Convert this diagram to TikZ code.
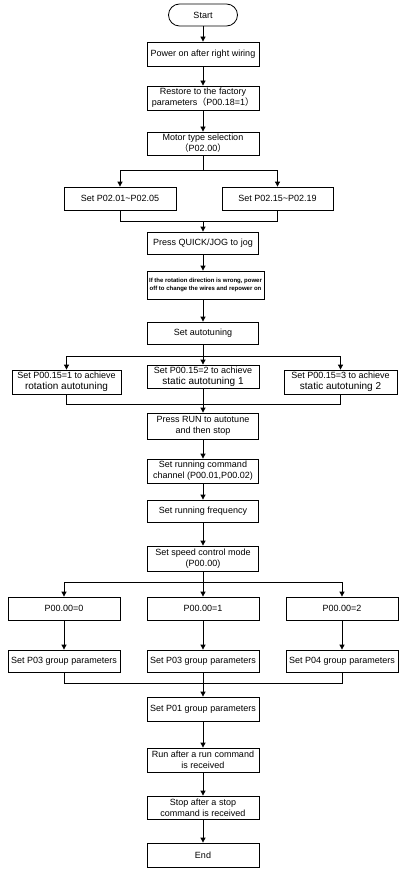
\documentclass[tikz,border=0pt]{standalone}
\usepackage{fontspec}
\setmainfont{Liberation Sans}
\newfontfamily\cjk{Noto Sans CJK SC}
\usetikzlibrary{arrows.meta}
\tikzset{flowbox/.style={draw,line width=0.8pt,minimum width=112pt,minimum height=24pt,inner sep=1pt,
    align=center,font=\fontsize{9}{11}\selectfont},
  startbox/.style={flowbox,rounded corners=11pt,minimum width=69pt,minimum height=22pt},
  flowline/.style={line width=0.8pt},
  flowarrow/.style={flowline,-{Triangle[length=5pt,width=5pt]}}}
\newcommand{\wideline}[1]{{\fontsize{10}{11}\selectfont #1}}

\begin{document}
\begin{tikzpicture}[x=1pt,y=-1pt]
    \useasboundingbox(0,0)rectangle(407,872);

    \node[startbox](start)at(203,15){Start};
    \node[flowbox](power)at(203,54){Power on after right wiring};
    \node[flowbox](restore)at(203,98){Restore to the factory\\parameters{\cjk（}P00.18=1{\cjk）}};
    \node[flowbox,minimum height=23pt](motor)at(203,143.5){Motor type selection\\{\cjk（}P02.00{\cjk）}};
    \node[flowbox,minimum height=23pt](setA)at(120,198.5){Set P02.01\textasciitilde P02.05};
    \node[flowbox,minimum width=111pt,minimum height=23pt](setB)at(277.5,198.5){Set P02.15\textasciitilde P02.19};
    \node[flowbox,minimum width=111pt,minimum height=22pt](jog)at(203,243){Press QUICK/JOG to jog};
    \node[flowbox,minimum width=117pt,minimum height=28pt,font=\fontsize{6}{8.5}\selectfont\bfseries](warn)at(205.5,285)
        {If the rotation direction is wrong, power\\off to change the wires and repower on};
    \node[flowbox,minimum width=111pt,minimum height=22pt](autotune)at(203,333){Set autotuning};

    \node[flowbox,minimum width=109pt](tuneA)at(66.5,382){Set P00.15=1 to achieve\\\wideline{rotation autotuning}};
    \node[flowbox,minimum height=23pt](tuneB)at(203,376.5){Set P00.15=2 to achieve\\\wideline{static autotuning 1}};
    \node[flowbox,minimum width=113pt](tuneC)at(340.5,382){Set P00.15=3 to achieve\\\wideline{static autotuning 2}};

    \node[flowbox,minimum width=111pt,minimum height=26pt](run)at(203,426){Press RUN to autotune\\and then stop};
    \node[flowbox,minimum width=111pt](channel)at(203,471){Set running command\\channel (P00.01,P00.02)};
    \node[flowbox,minimum width=111pt,minimum height=22pt](freq)at(203,511){Set running frequency};
    \node[flowbox,minimum width=111pt,minimum height=25pt](speed)at(203,558.5){Set speed control mode\\(P00.00)};

    \node[flowbox,minimum height=23pt](modeA)at(64,608.5){P00.00=0};
    \node[flowbox,minimum height=23pt](modeB)at(203,608.5){P00.00=1};
    \node[flowbox,minimum height=23pt](modeC)at(342,608.5){P00.00=2};
    \node[flowbox,minimum height=22pt](groupA)at(64,661){Set P03 group parameters};
    \node[flowbox,minimum height=22pt](groupB)at(203,661){Set P03 group parameters};
    \node[flowbox,minimum height=22pt](groupC)at(342,661){Set P04 group parameters};

    \node[flowbox](groupone)at(203,709){Set P01 group parameters};
    \node[flowbox](runcmd)at(203,760){Run after a run command\\is received};
    \node[flowbox,minimum height=23pt](stopcmd)at(203,807.5){Stop after a stop\\command is received};
    \node[flowbox](finish)at(203,855){End};

    \coordinate(forkA)at(203,170);
    \coordinate(joinA)at(203,221);
    \coordinate(forkB)at(203,356);
    \coordinate(joinB)at(203,404);
    \coordinate(forkC)at(203,582);
    \coordinate(joinC)at(203,683);

    \draw[flowarrow](start)--(power);
    \draw[flowarrow](power)--(restore);
    \draw[flowarrow](restore)--(motor);
    \draw[flowline](motor)--(forkA);
    \draw[flowarrow](forkA)-|(setA);
    \draw[flowarrow](forkA)-|(setB);
    \draw[flowline](setA)|-(joinA);
    \draw[flowline](setB)|-(joinA);
    \draw[flowarrow](joinA)--(jog);
    \draw[flowarrow](jog)--(jog.south|-warn.north);
    \draw[flowarrow](autotune.north|-warn.south)--(autotune);

    \draw[flowline](autotune)--(forkB);
    \draw[flowarrow](forkB)-|(tuneA);
    \draw[flowarrow](forkB)--(tuneB);
    \draw[flowarrow](forkB)-|(tuneC);
    \draw[flowline](tuneA)|-(joinB);
    \draw[flowline](tuneC)|-(joinB);
    \draw[flowarrow](tuneB)--(run);

    \draw[flowarrow](run)--(channel);
    \draw[flowarrow](channel)--(freq);
    \draw[flowarrow](freq)--(speed);
    \draw[flowline](speed)--(forkC);
    \draw[flowarrow](forkC)-|(modeA);
    \draw[flowarrow](forkC)--(modeB);
    \draw[flowarrow](forkC)-|(modeC);
    \draw[flowarrow](modeA)--(groupA);
    \draw[flowarrow](modeB)--(groupB);
    \draw[flowarrow](modeC)--(groupC);
    \draw[flowline](groupA)|-(joinC);
    \draw[flowline](groupC)|-(joinC);
    \draw[flowarrow](groupB)--(groupone);

    \draw[flowarrow](groupone)--(runcmd);
    \draw[flowarrow](runcmd)--(stopcmd);
    \draw[flowarrow](stopcmd)--(finish);
\end{tikzpicture}
\end{document}
